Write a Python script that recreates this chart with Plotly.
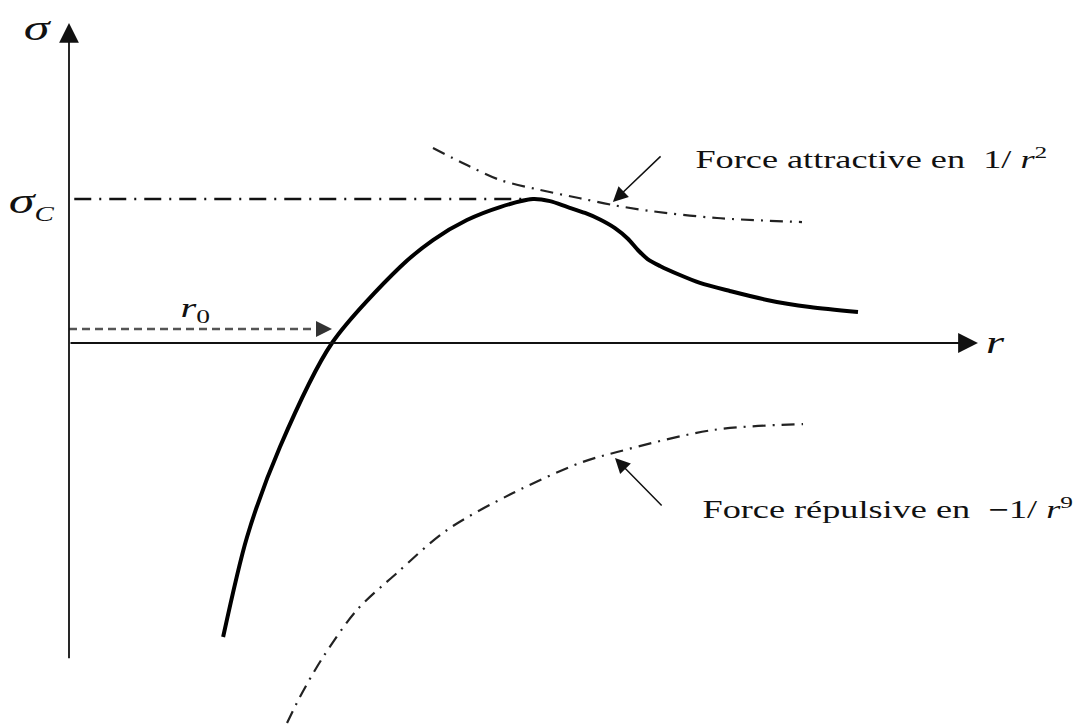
import plotly.graph_objects as go

# Reduced units: separation r / r0 and stress sigma / sigma_C
r_total = [0.586, 0.677, 0.802, 1.0, 1.259, 1.384, 1.513, 1.639, 1.764, 1.829, 1.894,
           1.962, 2.019, 2.076, 2.125, 2.163, 2.2, 2.247, 2.323, 2.399, 2.513, 2.654,
           2.817, 3.0]
sigma_total = [-2.042, -1.347, -0.722, 0.0, 0.528, 0.715, 0.854, 0.944, 1.0, 0.985, 0.945,
               0.903, 0.858, 0.798, 0.724, 0.646, 0.583, 0.535, 0.472, 0.417, 0.361, 0.299,
               0.25, 0.215]

# Attractive contribution (~ 1/r^2)
r_attr = [1.384, 1.513, 1.639, 1.791, 1.943, 2.068, 2.209, 2.464, 2.787]
sigma_attr = [1.354, 1.236, 1.132, 1.063, 1.005, 0.958, 0.917, 0.868, 0.840]

# Repulsive contribution (~ -1/r^9)
r_rep = [0.829, 0.878, 0.966, 1.095, 1.247, 1.437, 1.688, 1.943, 2.084, 2.449, 2.791]
sigma_rep = [-2.639, -2.458, -2.181, -1.854, -1.597, -1.299, -1.042, -0.833, -0.757,
             -0.604, -0.563]

# Critical stress and equilibrium distance
sigma_c = 1.0
r0 = 1.0
r_peak = 1.764

SERIF = "Liberation Serif, Times New Roman, serif"
INK = "#111111"
TEXT_STRETCH = 1.45   # horizontal stretch applied to the label glyphs

fig = go.Figure()

# sigma_C level
fig.add_trace(go.Scatter(
    x=[0.02, r_peak], y=[sigma_c, sigma_c], mode="lines",
    line=dict(color=INK, width=2.4, dash="17px,8px,2px,8px"), hoverinfo="skip"))

# attractive / repulsive components
fig.add_trace(go.Scatter(
    x=r_attr, y=sigma_attr, mode="lines", line_shape="spline",
    line=dict(color="#222222", width=2.2, smoothing=0.9, dash="13px,7px,2px,7px"),
    hoverinfo="skip"))
fig.add_trace(go.Scatter(
    x=r_rep, y=sigma_rep, mode="lines", line_shape="spline",
    line=dict(color="#222222", width=2.2, smoothing=0.9, dash="13px,7px,2px,7px"),
    hoverinfo="skip"))

# resulting stress
fig.add_trace(go.Scatter(
    x=r_total, y=sigma_total, mode="lines", line_shape="spline",
    line=dict(color="#000000", width=4, smoothing=0.8), hoverinfo="skip"))

# r0 dashed marker
r0_level = 0.097
fig.add_trace(go.Scatter(
    x=[0.0, r0 - 0.03], y=[r0_level, r0_level], mode="lines",
    line=dict(color="#555555", width=2.6, dash="8px,5px"), hoverinfo="skip"))

annotations = []

def arrow(x, y, ax, ay, width, size, color=INK):
    annotations.append(dict(
        x=x, y=y, ax=ax, ay=ay, xref="x", yref="y", axref="x", ayref="y",
        text="", showarrow=True, arrowhead=2, arrowwidth=width, arrowsize=size,
        arrowcolor=color, standoff=0, startstandoff=0))

# coordinate axes
arrow(0.0, 2.222, 0.0, -2.2, 1.8, 2.2)
arrow(3.456, 0.0, 0.0, 0.0, 1.8, 2.2)
# r0 arrow head
arrow(r0, r0_level, r0 - 0.05, r0_level, 2.0, 1.6, "#333333")
# pointers to the component curves
arrow(2.068, 0.979, 2.255, 1.306, 1.5, 2.0)
arrow(2.076, -0.799, 2.259, -1.139, 1.5, 2.0)

def label(x, y, text, size):
    annotations.append(dict(
        x=x, y=y, xref="x", yref="y", text=text, showarrow=False,
        xanchor="center", yanchor="middle",
        font=dict(family=SERIF, size=size, color=INK)))

NB = "\u00a0"
label(-0.118, 2.19, "<i>σ</i>", 36)
label(-0.14, 0.975,
      "<i>σ</i><sub><span style='font-size:20px'><i>C</i></span></sub>", 36)
label(3.521, 0.01, "<i>r</i>", 32)
label(0.479, 0.235, "<i>r</i><sub><span style='font-size:19px'>0</span></sub>", 28)
label(3.05, 1.285, f"Force attractive en{NB} 1/{NB}<i>r</i><sup>2</sup>", 25)
label(3.115, -1.145, f"Force répulsive en{NB} <b>−</b>1/{NB}<i>r</i><sup>9</sup>", 25)

fig.update_layout(
    width=1087, height=724,
    margin=dict(l=0, r=0, t=0, b=0),
    paper_bgcolor="white", plot_bgcolor="white",
    showlegend=False,
    xaxis=dict(range=[-0.26236, 3.87072], visible=False, fixedrange=True),
    yaxis=dict(range=[-2.64583, 2.38194], visible=False, fixedrange=True),
    annotations=annotations,
)

# Widen the label glyphs about their own centres.
stretch_js = """
(function(){
  var gd = document.getElementById('{plot_id}');
  function stretch(){
    gd.querySelectorAll('text.annotation-text').forEach(function(t){
      if (!t.textContent.trim()) return;
      var b = t.getBBox();
      var cx = b.x + b.width / 2;
      t.setAttribute('transform',
        'translate(' + cx + ',0) scale(SX,1) translate(' + (-cx) + ',0)');
    });
  }
  stretch();
  if (gd.on) gd.on('plotly_afterplot', stretch);
})();
""".replace("SX", str(TEXT_STRETCH))

fig.write_html("out.html", post_script=stretch_js)
